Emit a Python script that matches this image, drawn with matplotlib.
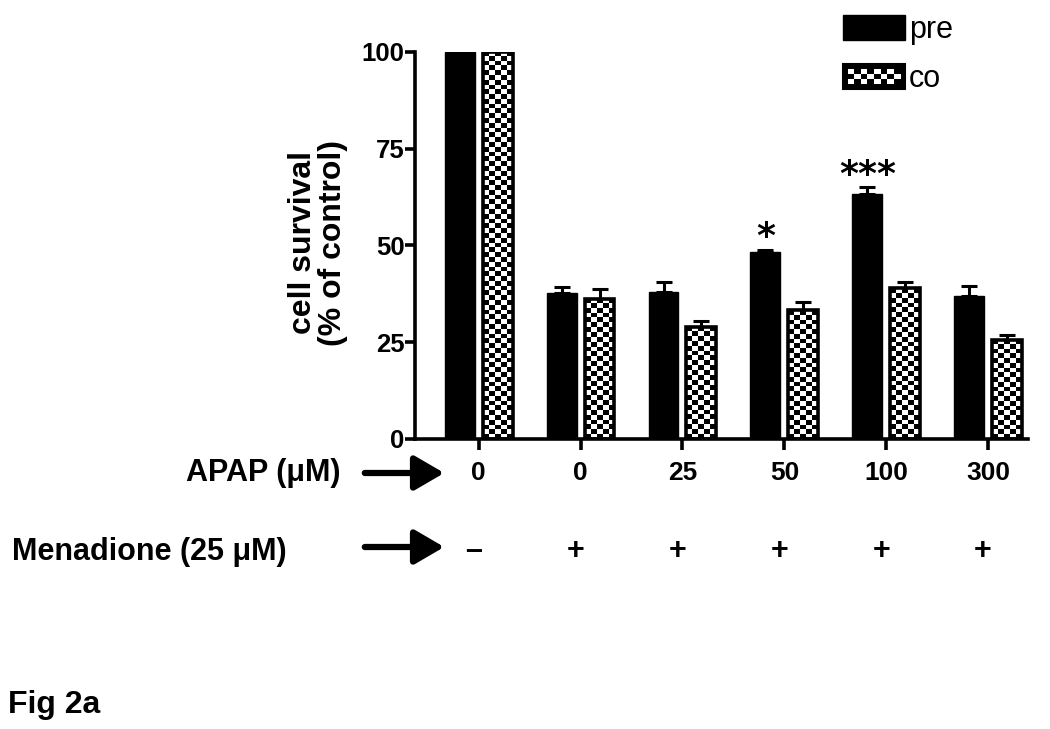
import numpy as np
import matplotlib
matplotlib.use("Agg")
import matplotlib.pyplot as plt
from matplotlib.patches import Rectangle, FancyArrowPatch
from matplotlib.legend_handler import HandlerBase

# data
apap = ["0", "0", "25", "50", "100", "300"]
menadione = ["\u2013", "+", "+", "+", "+", "+"]
pre_mean = [100, 37.7, 38.0, 48.4, 63.2, 37.0]
pre_err = [0, 1.6, 2.6, 0.5, 1.8, 2.4]
co_mean = [100, 36.2, 29.0, 33.3, 39.0, 25.6]
co_err = [0, 2.6, 1.4, 2.0, 1.4, 1.3]
stars = {3: "*", 4: "***"}

plt.rcParams["font.family"] = ["Liberation Sans", "DejaVu Sans"]


class CheckerHandler(HandlerBase):
    def create_artists(self, legend, orig_handle, xdescent, ydescent,
                       width, height, fontsize, trans):
        x0, y0 = -xdescent, -ydescent
        arts = [Rectangle((x0, y0), width, height, facecolor="black",
                          edgecolor="black", lw=1.5, transform=trans)]
        nc, nr = 8, 3
        pad = 3.5
        cw = (width - 2 * pad) / nc
        ch = (height - 2 * pad) / nr
        for i in range(nc):
            for j in range(nr):
                if (i + j) % 2 == 0:
                    arts.append(Rectangle((x0 + pad + i * cw, y0 + pad + j * ch), cw, ch,
                                          facecolor="white", lw=0, transform=trans))
        return arts


fig = plt.figure(figsize=(10.5, 7.29), dpi=100)
ax = fig.add_axes([0.395, 0.398, 0.584, 0.531])

x = np.arange(len(apap))
w = 0.294
off = 0.186

pre_bars = ax.bar(x - off, pre_mean, w, color="black", edgecolor="black", lw=1,
                  zorder=2, label="pre")
ax.errorbar(x - off, pre_mean, yerr=[np.zeros(len(x)), pre_err], fmt="none",
            ecolor="black", elinewidth=2.2, capsize=5.5, capthick=2.2, zorder=1)

co_bars = ax.bar(x + off, co_mean, w, facecolor="none", edgecolor="black", lw=2.6,
                 zorder=3, label="co")
ax.errorbar(x + off, co_mean, yerr=[np.zeros(len(x)), co_err], fmt="none",
            ecolor="black", elinewidth=2.2, capsize=5.5, capthick=2.2, zorder=1)

# checkerboard fill of co bars
px_per_y = 387 / 100.0
for b in co_bars:
    h = b.get_height()
    nrow = max(2, int(round(h * px_per_y / 4.8)))
    ncol = 5
    board = (np.indices((nrow, ncol)).sum(axis=0) % 2).astype(float)
    im = ax.imshow(board, cmap="gray", interpolation="nearest", aspect="auto",
                   extent=[b.get_x(), b.get_x() + b.get_width(), 0, h],
                   zorder=2.5, vmin=0, vmax=1)
    im.set_clip_path(b)

for i, s in stars.items():
    ax.text(x[i] - off, pre_mean[i] + pre_err[i] - 1.2, s, ha="center", va="bottom",
            fontsize=26, fontweight="bold", family="DejaVu Sans")

ax.set_xlim(-0.627, 5.39)
ax.set_ylim(0, 100)
ax.set_yticks([0, 25, 50, 75, 100])
ax.set_xticks(x)
ax.set_xticklabels(apap, fontsize=19, fontweight="bold")
for lab in ax.get_yticklabels():
    lab.set_fontsize(18.5)
    lab.set_fontweight("bold")
ax.tick_params(axis="y", length=7, width=2.6, pad=0.5)
ax.tick_params(axis="x", length=8, width=2.6, pad=8)
for s in ["top", "right"]:
    ax.spines[s].set_visible(False)
for s in ["left", "bottom"]:
    ax.spines[s].set_linewidth(2.6)
ax.patch.set_alpha(0)

leg = ax.legend(handles=[pre_bars[0], co_bars[0]], labels=["pre", "co"],
                handler_map={co_bars[0]: CheckerHandler()},
                loc="upper left", bbox_to_anchor=(0.698, 1.095), frameon=False,
                fontsize=22, handlelength=2.05, handleheight=0.88,
                handletextpad=0.12, labelspacing=0.62, borderaxespad=0,
                borderpad=0)

# y label
fig.text(318 / 1050, 1 - 243 / 729, "cell survival\n(% of control)", rotation=90,
         ha="center", va="center", fontsize=23, fontweight="bold",
         multialignment="center", linespacing=1.0)

# row labels below the axis
tr = ax.get_xaxis_transform()
fig.text(340 / 1050, 1 - 473 / 729, "APAP (\u03bcM)", ha="right", va="center",
         fontsize=22, fontweight="bold")
fig.text(12 / 1050, 1 - 552 / 729, "Menadione (25 \u03bcM)", ha="left", va="center",
         fontsize=22, fontweight="bold")
for i, m in enumerate(menadione):
    ax.text(x[i] - 0.05, -0.29, m, transform=tr, ha="center", va="center",
            fontsize=22, fontweight="bold")

for yy in [473, 547]:
    fig.add_artist(FancyArrowPatch(
        (362 / 1050, 1 - yy / 729), (447 / 1050, 1 - yy / 729),
        transform=fig.transFigure, arrowstyle="-|>,head_length=12,head_width=7",
        lw=4.5, color="black", mutation_scale=1.5))

fig.text(8 / 1050, 1 - 713 / 729, "Fig 2a", ha="left", va="baseline",
         fontsize=23, fontweight="bold")

fig.savefig("out.png", dpi=100)
